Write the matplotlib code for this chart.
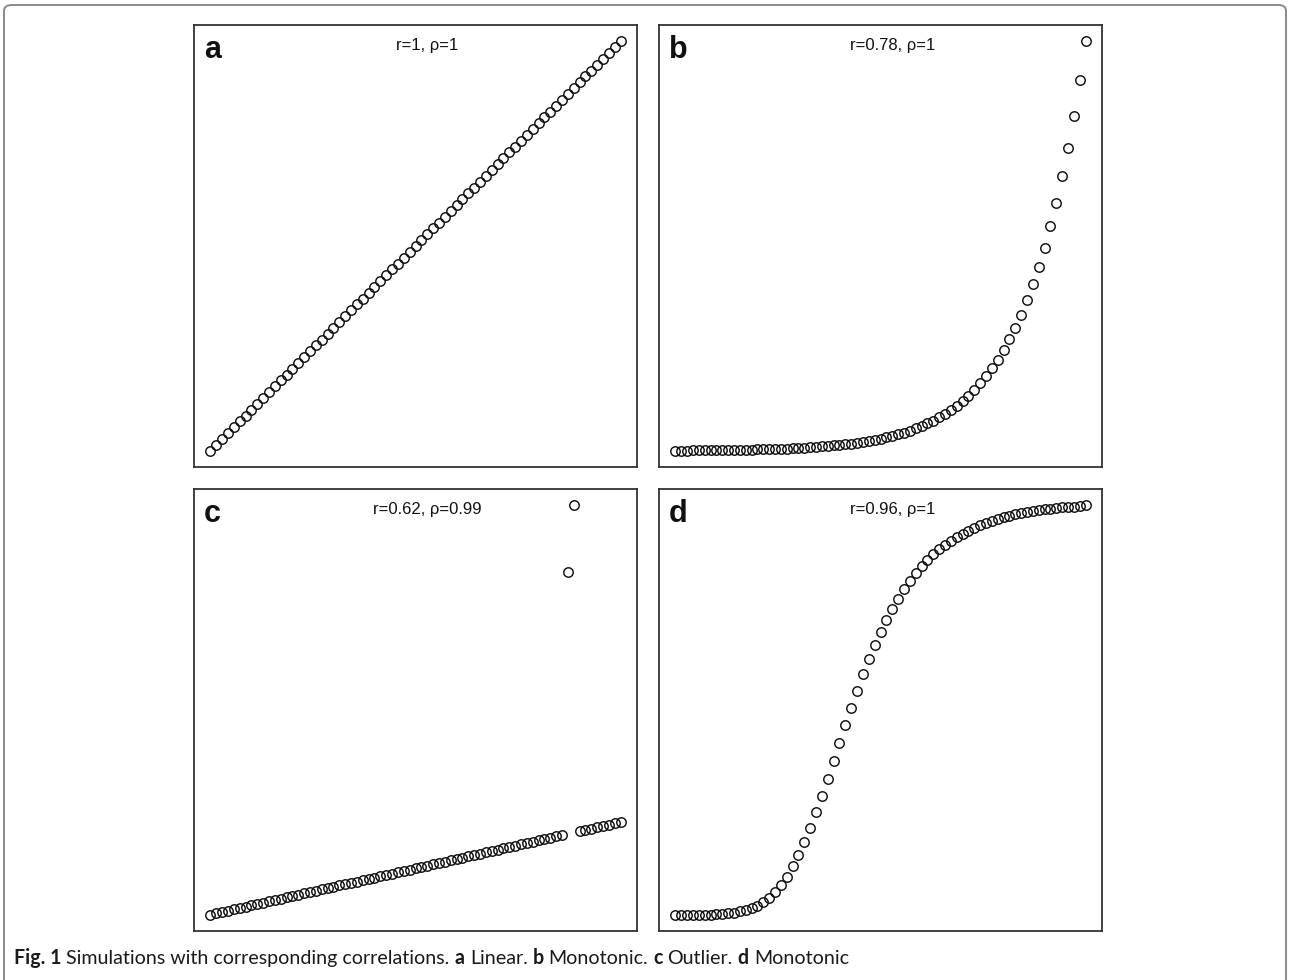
import matplotlib
matplotlib.use('Agg')
import matplotlib.pyplot as plt
from matplotlib.patches import FancyBboxPatch

# ---------------- data ----------------
x_vals = [-3.5, -3.4, -3.3, -3.2, -3.1, -3.0, -2.9, -2.8, -2.7, -2.6,
          -2.5, -2.4, -2.3, -2.2, -2.1, -2.0, -1.9, -1.8, -1.7, -1.6,
          -1.5, -1.4, -1.3, -1.2, -1.1, -1.0, -0.9, -0.8, -0.7, -0.6,
          -0.5, -0.4, -0.3, -0.2, -0.1, 0.0, 0.1, 0.2, 0.3, 0.4,
          0.5, 0.6, 0.7, 0.8, 0.9, 1.0, 1.1, 1.2, 1.3, 1.4,
          1.5, 1.6, 1.7, 1.8, 1.9, 2.0, 2.1, 2.2, 2.3, 2.4,
          2.5, 2.6, 2.7, 2.8, 2.9, 3.0, 3.1, 3.2, 3.3, 3.4, 3.5]

y_a = [-3.5, -3.4, -3.3, -3.2, -3.1, -3.0, -2.9, -2.8, -2.7, -2.6,
       -2.5, -2.4, -2.3, -2.2, -2.1, -2.0, -1.9, -1.8, -1.7, -1.6,
       -1.5, -1.4, -1.3, -1.2, -1.1, -1.0, -0.9, -0.8, -0.7, -0.6,
       -0.5, -0.4, -0.3, -0.2, -0.1, 0.0, 0.1, 0.2, 0.3, 0.4,
       0.5, 0.6, 0.7, 0.8, 0.9, 1.0, 1.1, 1.2, 1.3, 1.4,
       1.5, 1.6, 1.7, 1.8, 1.9, 2.0, 2.1, 2.2, 2.3, 2.4,
       2.5, 2.6, 2.7, 2.8, 2.9, 3.0, 3.1, 3.2, 3.3, 3.4, 3.5]

y_b = [0.0302, 0.0334, 0.0369, 0.0408, 0.0450, 0.0498, 0.0550, 0.0608, 0.0672, 0.0743,
       0.0821, 0.0907, 0.1003, 0.1108, 0.1225, 0.1353, 0.1496, 0.1653, 0.1827, 0.2019,
       0.2231, 0.2466, 0.2725, 0.3012, 0.3329, 0.3679, 0.4066, 0.4493, 0.4966, 0.5488,
       0.6065, 0.6703, 0.7408, 0.8187, 0.9048, 1.0000, 1.1052, 1.2214, 1.3499, 1.4918,
       1.6487, 1.8221, 2.0138, 2.2255, 2.4596, 2.7183, 3.0042, 3.3201, 3.6693, 4.0552,
       4.4817, 4.9530, 5.4739, 6.0496, 6.6859, 7.3891, 8.1662, 9.0250, 9.9742, 11.0232,
       12.1825, 13.4637, 14.8797, 16.4446, 18.1741, 20.0855, 22.1980, 24.5325, 27.1126, 29.9641,
       33.1155]

y_c = [-3.5, -3.4, -3.3, -3.2, -3.1, -3.0, -2.9, -2.8, -2.7, -2.6,
       -2.5, -2.4, -2.3, -2.2, -2.1, -2.0, -1.9, -1.8, -1.7, -1.6,
       -1.5, -1.4, -1.3, -1.2, -1.1, -1.0, -0.9, -0.8, -0.7, -0.6,
       -0.5, -0.4, -0.3, -0.2, -0.1, 0.0, 0.1, 0.2, 0.3, 0.4,
       0.5, 0.6, 0.7, 0.8, 0.9, 1.0, 1.1, 1.2, 1.3, 1.4,
       1.5, 1.6, 1.7, 1.8, 1.9, 2.0, 2.1, 2.2, 2.3, 2.4,
       2.5, 22.4, 27.4, 2.8, 2.9, 3.0, 3.1, 3.2, 3.3, 3.4, 3.5]

y_d = [0.000, 0.000, 0.000, 0.000, 0.000, 0.000, 0.000, 0.001, 0.002, 0.003,
       0.005, 0.008, 0.011, 0.016, 0.022, 0.030, 0.041, 0.056, 0.073, 0.093,
       0.118, 0.146, 0.178, 0.212, 0.250, 0.289, 0.331, 0.375, 0.419, 0.463,
       0.506, 0.547, 0.587, 0.624, 0.659, 0.691, 0.720, 0.747, 0.772, 0.795,
       0.816, 0.835, 0.852, 0.867, 0.881, 0.893, 0.904, 0.914, 0.923, 0.931,
       0.938, 0.945, 0.951, 0.957, 0.962, 0.967, 0.971, 0.975, 0.978, 0.981,
       0.984, 0.986, 0.988, 0.990, 0.992, 0.994, 0.995, 0.996, 0.997, 0.999, 1.000]

panel_labels = ['a', 'b', 'c', 'd']
panel_titles = ['r=1, \u03c1=1', 'r=0.78, \u03c1=1', 'r=0.62, \u03c1=0.99', 'r=0.96, \u03c1=1']
panel_series = [y_a, y_b, y_c, y_d]

caption_parts = [('Fig. 1', True), ('Simulations with corresponding correlations.', False),
                 ('a', True), ('Linear.', False), ('b', True), ('Monotonic.', False),
                 ('c', True), ('Outlier.', False), ('d', True), ('Monotonic', False)]

# ---------------- figure ----------------
W, H = 1290, 980
fig = plt.figure(figsize=(W / 100, H / 100), dpi=100)
fig.patch.set_facecolor('white')

# outer rounded frame
frame = FancyBboxPatch((4 / W, -30 / H), (1282 / W), (1 - 5 / H + 30 / H),
                       boxstyle='round,pad=0,rounding_size=0.006',
                       transform=fig.transFigure, fill=False,
                       edgecolor='#8a8a8a', linewidth=1.4, zorder=0)
fig.patches.append(frame)

# axes boxes in pixels: (left, top, right, bottom)
boxes = [(194, 25, 637, 467), (659, 25, 1102, 467),
         (194, 489, 637, 931), (659, 489, 1102, 931)]

for (l, t, r, b), lab, ttl, ys in zip(boxes, panel_labels, panel_titles, panel_series):
    ax = fig.add_axes([l / W, 1 - b / H, (r - l) / W, (b - t) / H])
    ax.plot(x_vals, ys, linestyle='none', marker='o', markersize=6.8,
            markerfacecolor='none', markeredgecolor='#111111', markeredgewidth=1.05)
    ax.margins(0.04)
    ax.set_xticks([])
    ax.set_yticks([])
    for sp in ax.spines.values():
        sp.set_color('#333333')
        sp.set_linewidth(1.3)
    ax.text(0.527, 1 - 25 / 442, ttl, transform=ax.transAxes, ha='center',
            va='baseline', fontsize=12, family='Liberation Sans', color='#111111')
    ax.text(10 / 443, 1 - 33 / 442, lab, transform=ax.transAxes, ha='left',
            va='baseline', fontsize=22, fontweight='bold', family='Liberation Sans',
            color='#111111')

# ---------------- caption ----------------
cap_font = 'Lato'
cap_size = 13.5
fig.canvas.draw()
renderer = fig.canvas.get_renderer()

def measure(s, bold, size):
    t = fig.text(0, 0, s, fontsize=size, family=cap_font,
                 fontweight='bold' if bold else 'normal')
    w = t.get_window_extent(renderer).width
    t.remove()
    return w

target_w = 851 - 14
space_w = measure('a a', False, cap_size) - measure('aa', False, cap_size)
total = sum(measure(s, bd, cap_size) for s, bd in caption_parts) + space_w * (len(caption_parts) - 1)
cap_size = cap_size * target_w / total
space_w = measure('a a', False, cap_size) - measure('aa', False, cap_size)

xpos = 14
ybase = (H - 964) / H
for s, bd in caption_parts:
    t = fig.text(xpos / W, ybase, s, fontsize=cap_size, family=cap_font,
                 fontweight='bold' if bd else 'normal', va='baseline', ha='left',
                 color='#1a1a1a')
    xpos += t.get_window_extent(renderer).width + space_w

fig.savefig('out.png', dpi=100, facecolor='white')
